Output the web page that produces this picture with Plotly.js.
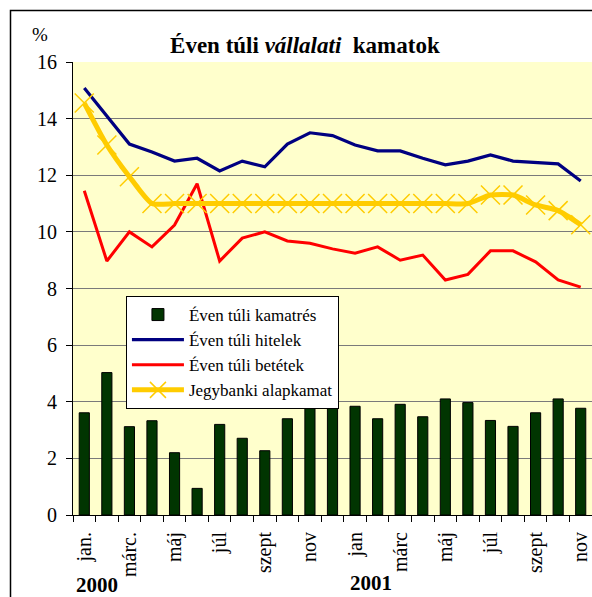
<!DOCTYPE html>
<html>
<head>
<meta charset="utf-8">
<script src="https://cdn.plot.ly/plotly-3.0.1.min.js"></script>
<style>
  html, body { margin: 0; padding: 0; background: #ffffff; }
  #chart { width: 592px; height: 597px; }
</style>
</head>
<body>
<div id="chart"></div>
<script>
// Months (Jan 2000 – Nov 2001)
var months = ['jan.','febr.','márc.','ápr.','máj','jún','júl','aug','szept','okt','nov','dec',
              'jan','febr','márc','ápr','máj','jún','júl','aug','szept','okt','nov'];
// Shown tick labels (every other month)
var tickLabelIdx = [0,2,4,6,8,10,12,14,16,18,20,22];
var tickLabels = ['jan.','márc.','máj','júl','szept','nov','jan','márc','máj','júl','szept','nov'];
var yearLabels = ['2000','2001'];

// Series (%)
var kamatres  = [3.61,5.03,3.12,3.33,2.20,0.94,3.20,2.71,2.27,3.40,3.91,3.97,
                 3.84,3.40,3.91,3.47,4.10,3.97,3.34,3.13,3.61,4.10,3.77];
var hitelek   = [15.08,14.10,13.10,12.82,12.50,12.60,12.15,12.50,12.30,13.10,13.50,13.40,
                 13.07,12.86,12.86,12.60,12.37,12.50,12.72,12.50,12.45,12.40,11.80];
var betetek   = [11.45,8.97,10.00,9.47,10.24,11.70,8.97,9.78,10.00,9.68,9.60,9.40,
                 9.25,9.47,9.00,9.18,8.30,8.50,9.33,9.33,8.94,8.30,8.05];
var alapkamat = [14.55,13.07,11.95,11.00,11.00,11.00,11.00,11.00,11.00,11.00,11.00,11.00,
                 11.00,11.00,11.00,11.00,11.00,11.00,11.30,11.30,10.95,10.75,10.25];

var seriesNames = ['Éven túli kamatrés','Éven túli hitelek','Éven túli betétek','Jegybanki alapkamat'];

var xs = months.map(function (m, i) { return i; });
var boundaries = [];
for (var b = 0; b <= months.length; b++) boundaries.push(b - 0.5);

var FONT = 'Liberation Serif, Times New Roman, serif';

var traces = [
  { type: 'bar', x: xs, y: kamatres, name: seriesNames[0], hovertext: months, textposition: 'none',
    marker: { color: '#013501', line: { color: '#000000', width: 1 } } },
  { type: 'scatter', mode: 'lines', x: xs, y: hitelek, name: seriesNames[1],
    line: { color: '#000080', width: 3.2 } },
  { type: 'scatter', mode: 'lines', x: xs, y: betetek, name: seriesNames[2],
    line: { color: '#FF0000', width: 3 } },
  { type: 'scatter', mode: 'lines+markers', x: xs, y: alapkamat, name: seriesNames[3],
    line: { color: '#FFCC00', width: 5, shape: 'spline', smoothing: 0.6 },
    marker: { symbol: 'x-thin', size: 19, color: '#FFCC00', line: { color: '#FFCC00', width: 1.5 } } }
];

var layout = {
  width: 592, height: 597,
  margin: { l: 73, r: 0, t: 62, b: 82, pad: 0 },
  paper_bgcolor: '#ffffff',
  plot_bgcolor: '#FFFFCC',
  font: { family: FONT, color: '#000000', size: 19 },
  showlegend: true,
  bargap: 0.55,
  title: {
    text: '<b>Éven túli <i>vállalati</i>\u00a0 kamatok</b>',
    font: { family: FONT, size: 23, color: '#000000' },
    xref: 'container', x: 0.515, xanchor: 'center',
    yref: 'container', y: 0.925, yanchor: 'middle'
  },
  xaxis: {
    range: [-0.5, months.length - 0.5],
    tickmode: 'array', tickvals: tickLabelIdx, ticktext: tickLabels,
    tickangle: -90, ticks: '', ticklabelstandoff: 8, tickfont: { family: FONT, size: 20 },
    minor: { tickmode: 'array', tickvals: boundaries, ticks: 'outside', ticklen: 6, tickcolor: '#000000', tickwidth: 1, showgrid: false },
    showline: true, linecolor: '#000000', linewidth: 1,
    showgrid: false, zeroline: false, fixedrange: true
  },
  yaxis: {
    range: [0, 16], tickmode: 'linear', tick0: 0, dtick: 2,
    ticks: 'outside', ticklen: 6, tickcolor: '#000000', ticklabelstandoff: 5,
    tickfont: { family: FONT, size: 20 },
    showline: true, linecolor: '#000000', linewidth: 1,
    showgrid: true, gridcolor: '#7a7a7a', gridwidth: 1,
    zeroline: false, fixedrange: true
  },
  legend: {
    x: 0.102, xanchor: 'left', y: (515 - 296) / 453, yanchor: 'top',
    bgcolor: '#ffffff', bordercolor: '#000000', borderwidth: 1,
    font: { family: FONT, size: 17 }, traceorder: 'normal', itemwidth: 52,
    tracegroupgap: 0
  },
  annotations: [
    { text: '%', xref: 'paper', yref: 'paper', x: (40 - 73) / 519, y: 1 + (62 - 35) / 453,
      xanchor: 'center', yanchor: 'middle', showarrow: false, font: { family: FONT, size: 19 } },
    { text: '<b>' + yearLabels[0] + '</b>', xref: 'x', yref: 'paper', x: 0.56, y: -(585 - 515) / 453,
      xanchor: 'center', yanchor: 'middle', showarrow: false, font: { family: FONT, size: 21 } },
    { text: '<b>' + yearLabels[1] + '</b>', xref: 'x', yref: 'paper', x: 12.7, y: -(583 - 515) / 453,
      xanchor: 'center', yanchor: 'middle', showarrow: false, font: { family: FONT, size: 21 } }
  ],
  shapes: [
    { type: 'rect', xref: 'paper', yref: 'paper', layer: 'above',
      x0: (10.5 - 73) / 519, x1: 1.2, y0: -0.3, y1: 1 + (62 - 10.5) / 453,
      line: { color: '#000000', width: 1.5 }, fillcolor: 'rgba(0,0,0,0)' }
  ]
};

Plotly.newPlot('chart', traces, layout, { displayModeBar: false, staticPlot: true });
</script>
</body>
</html>
